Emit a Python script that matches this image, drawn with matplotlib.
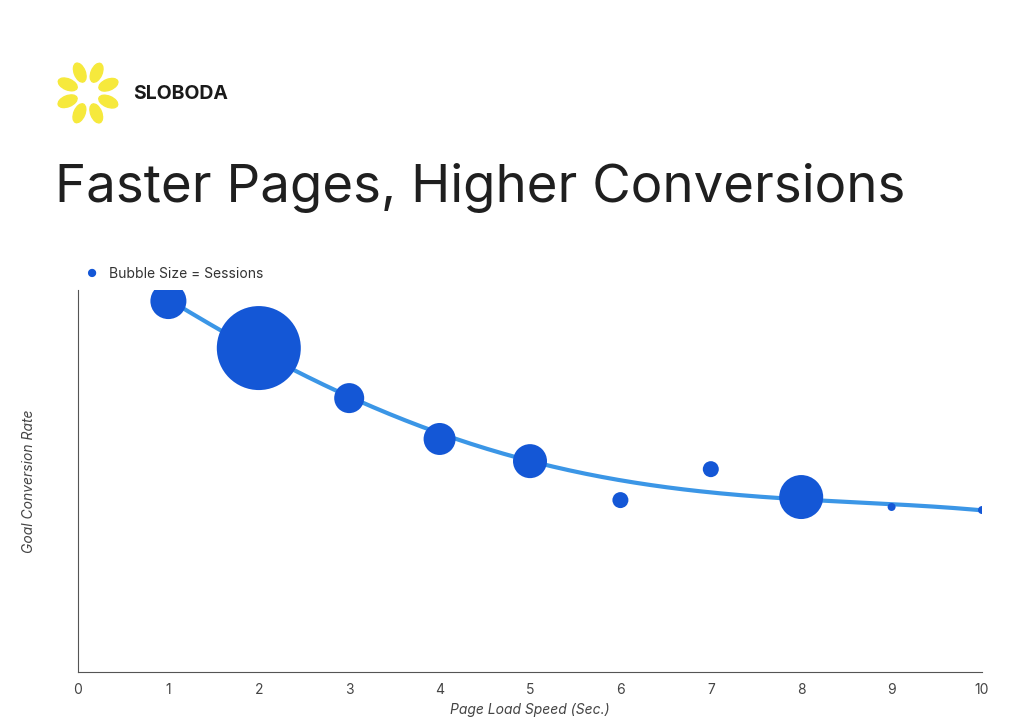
import numpy as np
import matplotlib.pyplot as plt
from matplotlib.patches import Ellipse
from matplotlib.transforms import IdentityTransform

plt.rcParams['font.family'] = ['Inter', 'DejaVu Sans']

load_speed = [1, 2, 3, 4, 5, 6, 7, 8, 9, 10]
conversion = [97.1, 84.8, 71.7, 61.0, 55.2, 45.0, 53.1, 45.8, 43.2, 42.4]
bubble_px = [18, 42, 15, 16, 17, 8, 8, 22, 4, 4]   # radius in pixels as seen
trend = [97.5, 84.0, 72.0, 62.5, 55.3, 50.0, 47.2, 45.3, 43.7, 42.4]
xticks = list(range(0, 11))

blue = '#1457d6'
line_blue = '#3b96e6'
H = 723

fig = plt.figure(figsize=(10.24, 7.23), dpi=100)
ax = fig.add_axes([78/1024, 1 - 672/H, 904/1024, 382/H])

# trend line, smoothed
coef = np.polyfit(load_speed, trend, 4)
xs = np.linspace(1, 10, 200)
ax.plot(xs, np.polyval(coef, xs), color=line_blue, lw=3, zorder=1)

sizes = [(2 * r * 0.72) ** 2 for r in bubble_px]
ax.scatter(load_speed, conversion, s=sizes, color=blue, zorder=2, linewidths=0)

ax.set_xlim(0, 10)
ax.set_ylim(0, 100)
ax.set_xticks(xticks)
ax.set_yticks([])
ax.tick_params(axis='x', length=0, labelsize=10, colors='#444444', pad=8)
for s in ['top', 'right']:
    ax.spines[s].set_visible(False)
for s in ['left', 'bottom']:
    ax.spines[s].set_color('#555555')
    ax.spines[s].set_linewidth(0.8)
ax.set_xlabel('Page Load Speed (Sec.)', fontstyle='italic', fontsize=10, color='#444444', labelpad=4)
ax.set_ylabel('Goal Conversion Rate', fontstyle='italic', fontsize=10, color='#444444', labelpad=30)

# legend
fig.text(91/1024, 1 - 274/H, '●', fontsize=8, color=blue, ha='center', va='center')
fig.text(109/1024, 1 - 274/H, 'Bubble Size = Sessions', fontsize=10, color='#333333', va='center')

# title
fig.text(55/1024, 1 - 188/H, 'Faster Pages, Higher Conversions', fontsize=38, color='#1f1f1f', va='center')

# logo: petals in pixel coordinates
cx, cy = 88, H - 93
for ang in np.arange(0, 360, 45) + 22:
    a = np.deg2rad(ang)
    px, py = cx + 22 * np.cos(a), cy + 22 * np.sin(a)
    fig.patches.append(Ellipse((px, py), 20, 11, angle=ang,
                               transform=IdentityTransform(), color='#f6e93c'))
fig.text(133/1024, 1 - 94/H, 'SLOBODA', fontsize=14, fontweight='bold', color='#1a1a1a', va='center')

fig.savefig('out.png', dpi=100, facecolor='white')
